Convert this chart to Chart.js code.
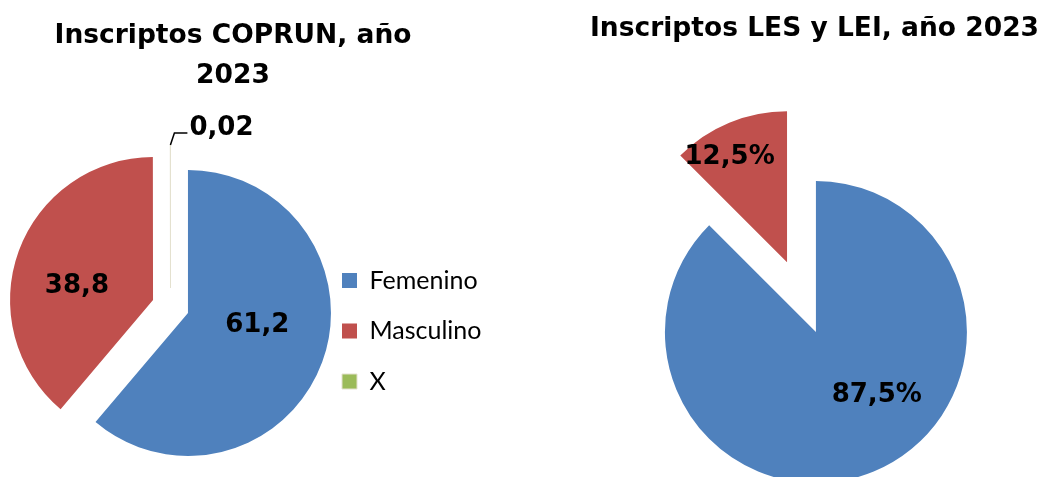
<!DOCTYPE html>
<html>
<head>
<meta charset="utf-8">
<script src="https://cdn.jsdelivr.net/npm/chart.js@4.4.1/dist/chart.umd.min.js"></script>
<style>
  html, body { margin: 0; padding: 0; background: #fff; overflow: hidden; }
  #wrap { position: relative; width: 1043px; height: 477px; overflow: hidden; }
  .box { position: absolute; top: 0; height: 477px; }
</style>
</head>
<body>
<div id="wrap">
  <div class="box" style="left:-60px;width:580px"><canvas id="coprun"></canvas></div>
  <div class="box" style="left:560px;width:483px"><canvas id="lesLei"></canvas></div>
</div>
<script>
// data
const categories = ['Femenino', 'Masculino', 'X'];
const coprunValues = [61.2, 38.8, 0.02];
const lesLeiValues = [87.5, 12.5, 0];
const coprunTitle = ['Inscriptos COPRUN, año', '2023'];
const lesLeiTitle = 'Inscriptos LES y LEI, año 2023';

const sliceColors = ['#4F81BD', '#C0504D', '#9BBB59'];
const HEAVY = 'DejaVu Sans';
const LIGHT = 'Lato';

// arcs move by offset/4 along their middle angle
const pushTo = (dist) => dist.map(d => 4 * d);

// chart.js grows an offset arc by offset/4*(1-sin(angle)) and trims its angle a little;
// undo both so the slices keep one radius and straight edges like the original
const evenRadius = {
  id: 'evenRadius',
  afterDatasetUpdate(chart, args, opts) {
    const R = opts.radius;
    chart.getDatasetMeta(args.index).data.forEach(arc => {
      const off = (arc.options && arc.options.offset) || 0;
      const fix = 1 - Math.sin(Math.min(Math.PI, arc.circumference || 0));
      const grow = off / 4 * fix;
      const trim = grow / (2 * Math.PI * R);
      arc.outerRadius = R - grow;
      arc.startAngle -= trim;
      arc.endAngle += trim;
    });
  }
};

// value labels (no datalabels plugin here)
const sliceLabels = {
  id: 'sliceLabels',
  afterDatasetsDraw(chart, args, opts) {
    const ctx = chart.ctx;
    const meta = chart.getDatasetMeta(0);
    const vals = chart.data.datasets[0].data;
    const R = chart.options.plugins.evenRadius.radius;
    ctx.save();
    ctx.font = 'bold ' + opts.size + 'px ' + HEAVY;
    ctx.fillStyle = '#000';
    ctx.strokeStyle = '#000';
    ctx.textBaseline = 'alphabetic';
    meta.data.forEach((arc, i) => {
      const v = vals[i];
      const place = opts.place[i];
      if (!v || !place) return;
      const mid = (arc.startAngle + arc.endAngle) / 2;
      const push = (arc.options.offset || 0) / 4;
      const cx = arc.x + Math.cos(mid) * push;
      const cy = arc.y + Math.sin(mid) * push;
      const text = String(v).replace('.', ',') + opts.suffix;
      const cap = opts.size * 0.73;
      if (place.leader) {
        const x0 = cx + Math.cos(mid) * R;
        const y0 = cy + Math.sin(mid) * R;
        ctx.lineWidth = 1.5;
        ctx.beginPath();
        ctx.moveTo(x0, y0);
        ctx.lineTo(x0 + 4, y0 - 12);
        ctx.lineTo(x0 + 17, y0 - 12);
        ctx.stroke();
        ctx.textAlign = 'left';
        ctx.fillText(text, x0 + 19, y0 - 10);
      } else {
        const a = mid + place.turn * Math.PI / 180;
        const r = R * place.f;
        ctx.textAlign = 'center';
        ctx.fillText(text, cx + Math.cos(a) * r, cy + Math.sin(a) * r + cap / 2);
      }
    });
    ctx.restore();
  }
};

const coprunOptions = {
  responsive: true,
  maintainAspectRatio: false,
  animation: false,
  events: [],
  radius: 143,
  layout: { padding: { left: 33.5, right: 27.5, top: 0, bottom: 0 } },
  plugins: {
    title: {
      display: true,
      text: coprunTitle,
      color: '#000',
      font: { family: HEAVY, size: 26.5, weight: 'bold', lineHeight: 1.509 },
      padding: { top: 16.5, bottom: 39.5 }
    },
    // empty box on the left: pushes the pie so title and pie keep their own centres
    subtitle: {
      display: true,
      position: 'left',
      text: '',
      font: { size: 1, lineHeight: 1 },
      padding: { top: 50, bottom: 0 }
    },
    legend: {
      position: 'right',
      maxWidth: 400,
      title: { display: true, text: '', font: { size: 1, lineHeight: 1 }, padding: { top: 184, bottom: 0 } },
      labels: {
        color: '#000',
        font: { family: LIGHT, size: 25 },
        boxWidth: 15,
        boxHeight: 15,
        padding: 25.5
      }
    },
    tooltip: { enabled: false },
    evenRadius: { radius: 143 },
    sliceLabels: {
      size: 26,
      suffix: '',
      place: [{ f: 0.49, turn: -12 }, { f: 0.545, turn: -7.6 }, { leader: true }]
    }
  }
};

const coprunChart = new Chart(document.getElementById('coprun'), {
  type: 'pie',
  plugins: [evenRadius, sliceLabels],
  data: {
    labels: categories,
    datasets: [{
      data: coprunValues,
      backgroundColor: sliceColors,
      borderWidth: [0, 0, 1],
      borderColor: ['#fff', '#fff', '#E4E1CF'],
      offset: pushTo([18.6, 18.6, 18.6])
    }]
  },
  options: coprunOptions
});

// place the left chart: legend boxes at x=342, pie centre x=170.5, title centre x=233 (page px)
(function fitLeft() {
  const canvasLeft = -60, canvasW = 580;
  const pieRight = 342 - coprunOptions.plugins.legend.labels.padding;
  const right = pieRight + coprunChart.legend.width;
  const left = 2 * 233 - right;
  const gap = 2 * 170.5 - pieRight - left;
  coprunOptions.layout.padding.left = left - canvasLeft;
  coprunOptions.layout.padding.right = canvasLeft + canvasW - right;
  coprunOptions.plugins.subtitle.padding = { top: Math.max(gap - 1, 0), bottom: 0 };
  coprunChart.update();
})();

new Chart(document.getElementById('lesLei'), {
  type: 'pie',
  plugins: [evenRadius, sliceLabels],
  data: {
    labels: categories,
    datasets: [{
      data: lesLeiValues,
      backgroundColor: sliceColors,
      borderWidth: 0,
      offset: pushTo([39, 36.5, 37])
    }]
  },
  options: {
    responsive: true,
    maintainAspectRatio: false,
    animation: false,
    events: [],
    radius: 151,
    layout: { padding: { left: 26, right: 0, top: 0, bottom: 0 } },
    plugins: {
      title: {
        display: true,
        text: lesLeiTitle,
        color: '#000',
        font: { family: HEAVY, size: 26.5, weight: 'bold', lineHeight: 1.2 },
        padding: { top: 13.2, bottom: 70 }
      },
      // empty legend, only there to keep the pie left of the title centre
      legend: {
        position: 'right',
        maxWidth: 27,
        labels: { padding: 30, filter: () => false }
      },
      tooltip: { enabled: false },
      evenRadius: { radius: 151 },
      sliceLabels: {
        size: 26,
        suffix: '%',
        place: [{ f: 0.57, turn: -22.5 }, { f: 0.81, turn: -5.5 }, null]
      }
    }
  }
});
</script>
</body>
</html>
